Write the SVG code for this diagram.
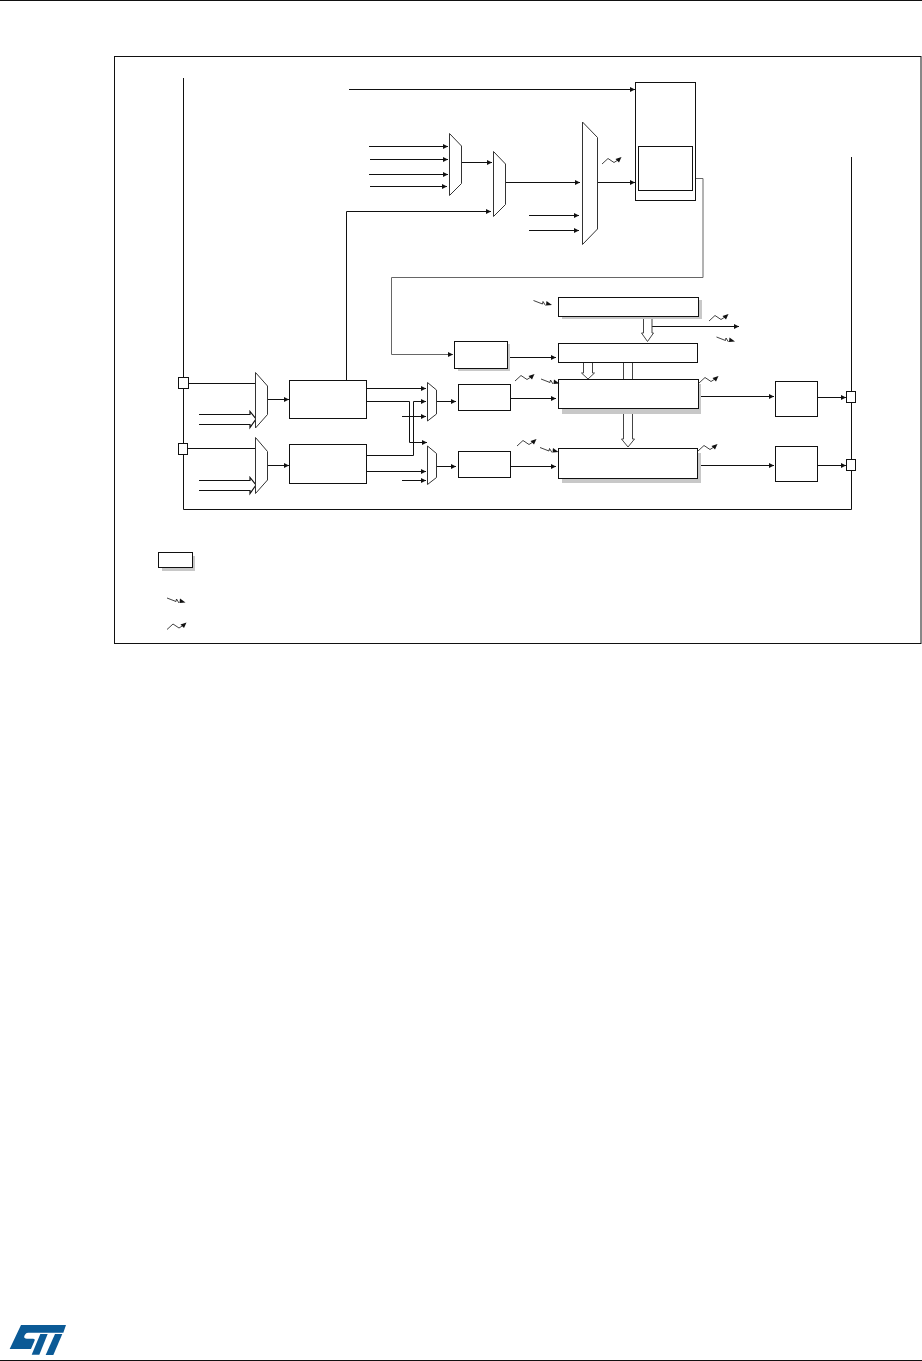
<svg xmlns="http://www.w3.org/2000/svg" width="922" height="1361" viewBox="0 0 922 1361">
<style>
.b{fill:#fff;stroke:#111;stroke-width:1}
.m{fill:#fff;stroke:#333;stroke-width:1}
.s{fill:#c8c8c8;stroke:none}
.c{fill:none;stroke:#111;stroke-width:1}
.g{fill:none;stroke:#666;stroke-width:1}
.h{fill:#fff;stroke:#444;stroke-width:1}
.d{fill:none;stroke:#111;stroke-width:1.2}
.a{marker-end:url(#ah)}
.i{fill:none;stroke:#111;stroke-width:.8}
</style>
<defs>
<marker id="ah" markerUnits="userSpaceOnUse" markerWidth="6" markerHeight="6" refX="5" refY="3" orient="auto"><path d="M0,.5L5,3L0,5.5Z" fill="#111"/></marker>
<g id="clk"><path class="i" d="M0,7L6,1.5L12,5.5L16,3"/><path d="M19.5,0L13.5,2L17,5.5Z" fill="#111"/></g>
<g id="blt"><path class="i" d="M0,0L9,3.5L9.5,1L12,5"/><path d="M18.5,4.5L13,0.5L12.5,5Z" fill="#111"/></g>
</defs>
<rect width="922" height="1361" fill="#fff"/>
<g id="page">
<path d="M0,.5H922M0,1360.5H922" stroke="#111" stroke-width="1" fill="none"/>
<rect id="frame" x="114.5" y="56.5" width="806.5" height="587" fill="none" stroke="#111"/>
<g id="logo" fill="#0b5a96" transform="translate(5,1320) scale(.3333)">
<path d="M48,15H183L175,38H70C62,38 60,44 58,48C56,54 60,56 66,56H84C90,56 90,60 88,64L78,87H14Z"/>
<path d="M106,42H128L103,104H80Z"/>
<path d="M150,42H172L145,105H122Z"/>
</g>
</g>
<g id="connectors">
<path class="c" d="M183.5,78V509.5H851.5V157"/>
<path class="c a" d="M349,89.5H635"/>
<path class="c a" d="M369,146.5H448"/>
<path class="c a" d="M370,159.5H448"/>
<path class="c a" d="M369,174.5H448"/>
<path class="c a" d="M370,186.5H447"/>
<path class="c a" d="M461.5,162.5H492"/>
<path class="c a" d="M346.5,380V211.5H491"/>
<path class="c a" d="M505.5,182.5H580"/>
<path class="c a" d="M529,215.5H579"/>
<path class="c a" d="M529,230.5H579"/>
<path class="c a" d="M597.5,182.5H635"/>
<path class="g a" d="M695.5,178.5H703V277.5H391.5V354.5H453"/>
<path class="c a" d="M507.5,357.5H556"/>
<path class="c a" d="M652,326.5H739"/>
<path class="c a" d="M701,396.5H774"/>
<path class="c a" d="M701,465.5H774"/>
<path class="c a" d="M817.5,397.5H846"/>
<path class="c a" d="M817.5,465.5H846"/>
<path class="c" d="M188.5,383.5H256"/>
<path class="c" d="M187.5,448.5H256"/>
<path class="c a" d="M267.5,399.5H289"/>
<path class="c a" d="M267.5,465.5H289"/>
<path class="c a" d="M366.5,388.5H426"/>
<path class="c a" d="M366.5,401.5H409.5V442.5H427"/>
<path class="c a" d="M366.5,455.5H413.5V401.5H426"/>
<path class="c a" d="M366.5,471.5H426"/>
<path class="c a" d="M402,416.5H426"/>
<path class="c a" d="M402,480.5H426"/>
<path class="c a" d="M436.5,401.5H456"/>
<path class="c a" d="M436.5,466.5H456"/>
<path class="c a" d="M510.5,398.5H556"/>
<path class="c a" d="M510.5,466.5H556"/>
<path class="d" d="M199,414.5H250V411.5L256,419L250,427.5V424.5H199"/>
<path class="d" d="M199,480.5H250V477.5L256,485L250,493.5V490.5H199"/>
</g>
<g id="mux-1"><path class="m" d="M449.5,133.5L461.5,146V183.5L449.5,195.5Z"/></g>
<g id="mux-2"><path class="m" d="M493.5,151.5L505.5,164V204.5L493.5,216.5Z"/></g>
<g id="mux-3"><path class="m" d="M582.5,122L597.5,137.5V229L582.5,244.5Z"/></g>
<g id="mux-4"><path class="m" d="M255.5,372.5L267.5,386V414.5L255.5,428Z"/></g>
<g id="mux-5"><path class="m" d="M255.5,437.5L267.5,451.5V480L255.5,493.5Z"/></g>
<g id="mux-6"><path class="m" d="M427.5,382.5L436.5,390V414L427.5,421Z"/></g>
<g id="mux-7"><path class="m" d="M427.5,446L436.5,453.5V477.5L427.5,484.5Z"/></g>
<g id="pin-1"><rect class="b" x="178.5" y="377.5" width="10" height="11"/></g>
<g id="pin-2"><rect class="b" x="178.5" y="443.5" width="9" height="11"/></g>
<g id="pin-3"><rect class="b" x="846.5" y="391.5" width="9" height="11"/></g>
<g id="pin-4"><rect class="b" x="846.5" y="459.5" width="9" height="11"/></g>
<g id="ic-1"><rect class="b" x="289.5" y="380.5" width="77" height="38"/></g>
<g id="ic-2"><rect class="b" x="289.5" y="444.5" width="77" height="39"/></g>
<g id="psc-1"><rect class="b" x="458.5" y="384.5" width="52" height="26"/></g>
<g id="psc-2"><rect class="b" x="458.5" y="451.5" width="52" height="26"/></g>
<g id="out-1"><rect class="b" x="775.5" y="381.5" width="42" height="35"/></g>
<g id="out-2"><rect class="b" x="775.5" y="446.5" width="42" height="35"/></g>
<g id="ctrl">
<rect class="b" x="635.5" y="82.5" width="60" height="118"/>
<rect class="b" x="638.5" y="146.5" width="54" height="44"/>
</g>
<g id="prescaler">
<rect class="s" x="458" y="344" width="52" height="27"/>
<rect class="b" x="454.5" y="341.5" width="53" height="27"/>
</g>
<g id="hollow-arrows">
<path class="h" d="M643.5,315H652V333L653.5,333L647.5,341.5L641.5,333H643.5Z"/>
<path class="h" d="M583.5,362.5H592.5V373H594.5L588,379L581.5,373H583.5Z"/>
<path class="h" d="M623.5,362.5H632.5V380H623.5Z"/>
<path class="h" d="M623.5,412H632.5V439H634.5L628,447L621.5,439H623.5Z"/>
</g>
<g id="reg-1">
<rect class="s" x="562" y="300" width="140" height="19"/>
<rect class="b" x="558.5" y="297.5" width="140" height="19"/>
</g>
<g id="reg-2"><rect class="b" x="558.5" y="343.5" width="139" height="19"/></g>
<g id="reg-3">
<rect class="s" x="562" y="384" width="139" height="30"/>
<rect class="b" x="558.5" y="379.5" width="140" height="29"/>
</g>
<g id="reg-4">
<rect class="s" x="562" y="453" width="139" height="30"/>
<rect class="b" x="558.5" y="448.5" width="139" height="30"/>
</g>
<g id="legend-box">
<rect class="s" x="162" y="556" width="33" height="15"/>
<rect class="b" x="158.5" y="552.5" width="34" height="15"/>
</g>
<g id="icons">
<use href="#clk" x="602" y="157"/>
<use href="#clk" x="515" y="374"/>
<use href="#clk" x="517" y="439"/>
<use href="#clk" x="709" y="314"/>
<use href="#clk" x="699" y="376"/>
<use href="#clk" x="698" y="444"/>
<use href="#clk" x="167" y="622.5"/>
<use href="#blt" x="533.5" y="300.5"/>
<use href="#blt" x="716.5" y="337"/>
<use href="#blt" x="541" y="379"/>
<use href="#blt" x="540" y="447.5"/>
<use href="#blt" x="167" y="598"/>
</g>
</svg>
